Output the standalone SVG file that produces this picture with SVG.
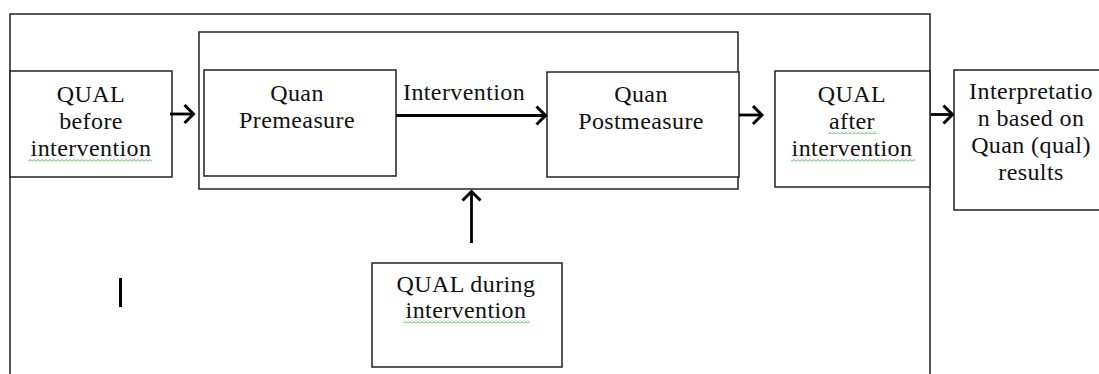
<svg xmlns="http://www.w3.org/2000/svg" width="1099" height="374" viewBox="0 0 1099 374">
<style>
.box{fill:#fff;stroke:#222;stroke-width:1.5}
.frame{fill:none;stroke:#222;stroke-width:1.5}
.t{font-family:"Liberation Serif","Times New Roman",serif;font-size:24px;fill:#111;text-anchor:middle;letter-spacing:0.4px}
.tl{text-anchor:start}
.arr{fill:none;stroke:#000;stroke-width:2.8;marker-end:url(#head)}
</style>
<defs>
<marker id="head" markerUnits="userSpaceOnUse" markerWidth="22" markerHeight="22" refX="11" refY="11" orient="auto" viewBox="0 0 22 22" overflow="visible">
<path d="M2,2 L11,11 L2,20" fill="none" stroke="#000" stroke-width="3"/>
</marker>
<pattern id="wavy" width="4" height="3" patternUnits="userSpaceOnUse">
<path d="M0,2.5 L2,0.5 L4,2.5" fill="none" stroke="#4caf50" stroke-width="1"/>
</pattern>
</defs>
<rect width="1099" height="374" fill="#fff"/>
<g id="outer-frame">
<rect class="frame" x="10" y="14" width="920" height="400"/>
</g>
<g id="quan-container">
<rect class="frame" x="199" y="32" width="539" height="157"/>
</g>
<g id="qual-before">
<rect class="box" x="10" y="71" width="162" height="106"/>
<text class="t" x="91" y="102">QUAL</text>
<text class="t" x="91" y="129">before</text>
<text class="t" x="91" y="156">intervention</text>
<rect x="28" y="159" width="124" height="3" fill="url(#wavy)"/>
</g>
<g id="quan-premeasure">
<rect class="box" x="204" y="70" width="192" height="106"/>
<text class="t" x="297" y="101">Quan</text>
<text class="t" x="297" y="128">Premeasure</text>
</g>
<g id="quan-postmeasure">
<rect class="box" x="547" y="72" width="192" height="105"/>
<text class="t" x="641" y="102">Quan</text>
<text class="t" x="641" y="129">Postmeasure</text>
</g>
<g id="qual-after">
<rect class="box" x="775" y="71" width="155" height="116"/>
<text class="t" x="852" y="102">QUAL</text>
<text class="t" x="852" y="129">after</text>
<text class="t" x="852" y="156">intervention</text>
<rect x="828" y="131" width="49" height="3" fill="url(#wavy)"/>
<rect x="791" y="159" width="124" height="3" fill="url(#wavy)"/>
</g>
<g id="interpretation">
<rect class="box" x="954" y="70" width="150" height="140"/>
<text class="t" x="1031" y="99">Interpretatio</text>
<text class="t" x="1031" y="126">n based on</text>
<text class="t" x="1031" y="153">Quan (qual)</text>
<text class="t" x="1031" y="180">results</text>
</g>
<g id="qual-during">
<rect class="box" x="372" y="263" width="190" height="104"/>
<text class="t" x="466" y="292">QUAL during</text>
<text class="t" x="466" y="318">intervention</text>
<rect x="403" y="320" width="127" height="3" fill="url(#wavy)"/>
</g>
<g id="marker-i">
<rect x="119" y="278" width="3" height="29" fill="#000"/>
</g>
<g id="connectors">
<line class="arr" x1="170" y1="114" x2="193.5" y2="114"/>
<line class="arr" x1="396" y1="115.5" x2="545.5" y2="115.5"/>
<line class="arr" x1="739" y1="115" x2="762" y2="115"/>
<line class="arr" x1="931" y1="114.5" x2="952.5" y2="114.5"/>
<line class="arr" x1="471.5" y1="243" x2="471.5" y2="191.5"/>
<text class="t tl" x="403" y="100">Intervention</text>
</g>
</svg>
